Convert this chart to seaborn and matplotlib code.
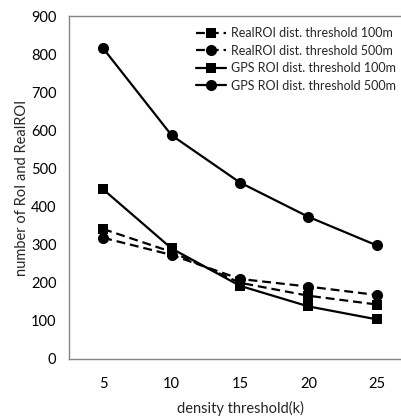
import matplotlib
matplotlib.use("Agg")
import matplotlib.pyplot as plt
import seaborn as sns
import pandas as pd

density = [5, 10, 15, 20, 25]
real_100 = [341, 281, 200, 166, 143]
real_500 = [318, 273, 210, 190, 168]
gps_100 = [445, 290, 192, 138, 104]
gps_500 = [815, 587, 463, 373, 298]
labels = ["RealROI dist. threshold 100m", "RealROI dist. threshold 500m",
          "GPS ROI dist. threshold 100m", "GPS ROI dist. threshold 500m"]
yticks = [0, 100, 200, 300, 400, 500, 600, 700, 800, 900]

sns.set_style("white")
plt.rcParams["font.family"] = ["Lato", "DejaVu Sans"]

fig = plt.figure(figsize=(4.02, 4.16), dpi=100)
ax = fig.add_axes([69 / 402, 57 / 416, 342 / 402, 343 / 416])

series = [real_100, real_500, gps_100, gps_500]
markers = ["s", "o", "s", "o"]
dashed = [True, True, False, False]
for vals, lab, mk, ds in zip(series, labels, markers, dashed):
    df = pd.DataFrame({"k": density, "n": vals})
    sns.lineplot(data=df, x="k", y="n", ax=ax, color="black", marker=mk,
                 markersize=7.5 if mk == "s" else 8, markeredgewidth=0,
                 linewidth=1.6, label=lab)
    if ds:
        ax.lines[-1].set_dashes((4, 2.2))

ax.set_xlim(2.5, 27.5)
ax.set_ylim(0, 900)
ax.set_xticks(density)
ax.set_yticks(yticks)
ax.tick_params(axis="both", length=0, labelsize=10.5, colors="black")
ax.tick_params(axis="y", pad=9)
ax.tick_params(axis="x", pad=13)
ax.set_xlabel("density threshold(k)", fontsize=10.5, labelpad=7)
ax.set_ylabel("number of RoI and RealROI", fontsize=10.5, labelpad=1)
for s in ["left", "top", "bottom", "right"]:
    ax.spines[s].set_color("#868686")
    ax.spines[s].set_linewidth(1.0)

leg = ax.legend(loc="upper left", bbox_to_anchor=(0.35, 0.99), frameon=False,
                prop={"family": ["Liberation Sans Narrow", "Lato"], "size": 9},
                handlelength=2.4, handletextpad=0.4, labelspacing=0.45,
                borderaxespad=0.2)

fig.savefig("out.png", dpi=100)
